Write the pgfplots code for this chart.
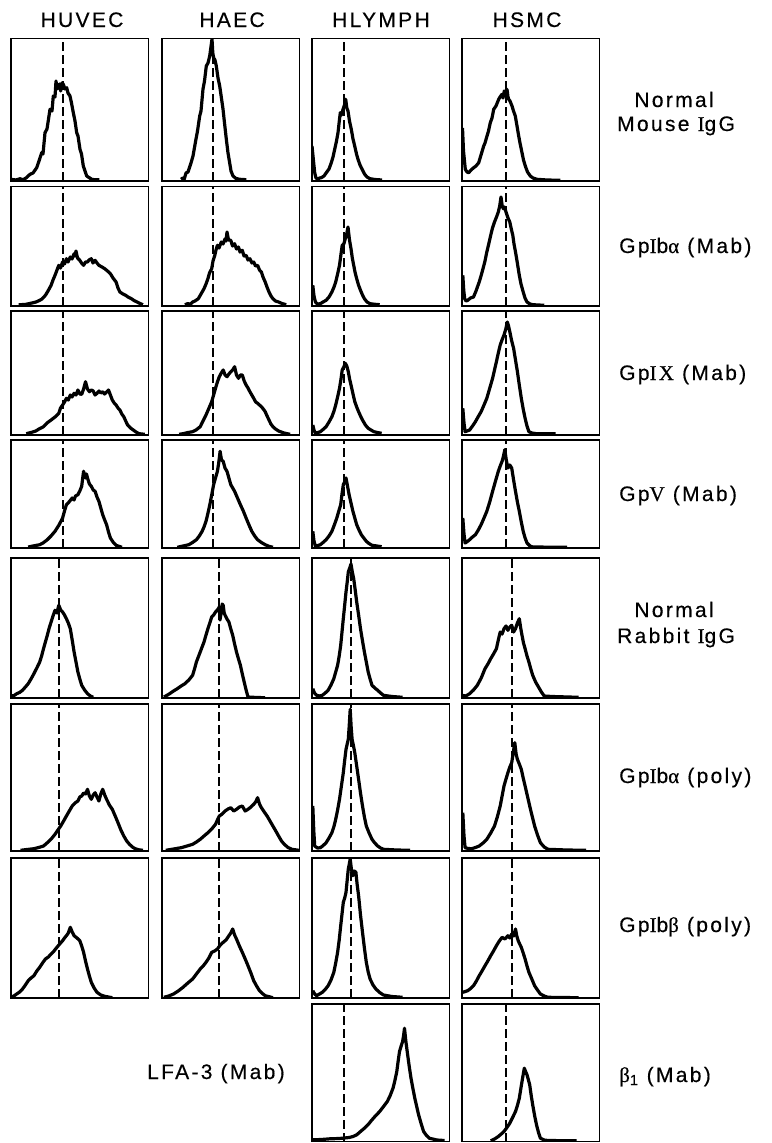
\documentclass[border=0pt]{standalone}
\usepackage{fontspec}
\setmainfont[LetterSpace=11,FakeBold=0.4]{Liberation Sans}
\newfontfamily\tnr[LetterSpace=11,FakeBold=0.4]{Liberation Serif}
\usepackage{pgfplots}
\pgfplotsset{compat=1.18}
\newcommand{\sI}{{\tnr I}}
\pgfplotsset{
  panel/.style={scale only axis, width=137.5bp, xmin=0, xmax=137.5, ymin=0,
    axis line style={line width=1.6bp}, ticks=none, anchor=north west, clip=true},
  hist/.style={black, line width=3.2bp, line join=round, no markers},
  dline/.style={black, line width=1.4bp, dash pattern=on 9bp off 4bp, no markers}
}
\newcommand{\panel}[5]{%
\begin{axis}[panel, at={(#1bp,-#2bp)}, height=#3bp, ymax=#3]
\addplot[dline] coordinates {(#4,0) (#4,#3)};
\addplot[hist] coordinates {#5};
\end{axis}}
\tikzset{lab/.style={font=\fontsize{21bp}{25bp}\selectfont, inner sep=0pt}}
\begin{document}
\begin{tikzpicture}
\useasboundingbox (0,0) rectangle (772bp,-1143bp);
% ---------- Row 1: Normal Mouse IgG ----------
\panel{11}{38.5}{142.5}{52}{(0,1.7)(5,1)(9,2.3)(12,1.2)(15,3)(19,6.7)(22,8)(25.7,13.3)(28,20)(30.7,28.3)(32,27)(34,48.3)(36,52)(39,71.7)(41,70)(42.3,85)(44,84)(45,100)(46,92)(47.3,95)(48.5,97)(49.7,90)(51,98)(52.3,96.7)(54,92)(55.7,93.3)(57,88)(59,85)(60.5,78)(62.3,68.3)(64,60)(65.7,48.3)(67,45)(69,31.7)(70.5,27)(72.3,15)(74,10)(75.7,5)(78,3.5)(80.7,1.7)(84,1.2)(88.3,1.3)}
\panel{162}{38.5}{142.5}{51}{(19,1.7)(21,3)(22,1)(24,8)(26,9)(29,18)(31,25)(34,42)(35.5,50)(37.7,65)(39,70)(41,92)(42.5,100)(44.3,115)(46,118)(47.7,125)(48.8,133)(50,142)(50.8,128)(51.7,123)(53,121)(54.3,115)(56,103)(57.7,95)(59,86)(61,72)(62.5,58)(64.3,42)(66,28)(67.7,18)(69,10)(71,5)(74,2.5)(77.7,1.7)(84.3,1.3)}
\panel{312}{38.5}{142.5}{32}{(0,35)(1.5,20)(2.7,8.3)(4,3)(6,1.7)(7.5,3)(9.3,3.3)(12,5)(14.3,8.3)(17,12)(19.3,18.3)(21,24)(22.7,31.7)(24.5,40)(26,48.3)(27.3,60)(28.3,68.3)(29.5,66)(31,71.7)(32.5,76)(33.7,81.7)(34.8,73)(36,70)(37.5,60)(39.3,51.7)(41,42)(42.7,35)(44.5,27)(46,21.7)(48,16)(49.3,13.3)(51,10)(52.7,6.7)(55,4)(58,2.3)(63,1.5)(70,1)}
\panel{462}{38.5}{142.5}{44}{(0.5,53)(1.5,30)(3.3,11.7)(5,9)(6.7,8.3)(9,11)(11.7,13.3)(14,15)(16.7,18.3)(19,26)(21.7,35)(23,38)(25,45)(26.5,50)(28.3,58.3)(30,63)(31.7,71.7)(34,75)(36.7,81.7)(38,84)(40,86.7)(41,83)(42.3,90)(43.5,88)(45,91.7)(46,84)(46.7,81.7)(48,80)(50,75)(51.5,70)(53.3,65)(55,55)(56.7,45)(58,38)(60,28.3)(61.5,21)(63.3,15)(65.5,9)(68.3,5)(71,3)(75,1.7)(85,1)(98.3,0.7)}
% ---------- Row 2: GpIb alpha (Mab) ----------
\panel{11}{186.5}{119.5}{52}{(7.6,1.3)(14,1.5)(21,3)(25,4)(28.7,5.7)(31,7)(34.4,10.7)(37,15)(40.1,20.7)(42,26)(44,30.7)(46,36)(47.8,40.7)(49.5,38)(51.6,44)(53.5,42)(55.4,47.3)(57,44)(59.3,49)(61,47)(63.1,52.3)(64,50)(65,55)(66.5,48)(68.8,45.7)(70.5,43)(72.6,40.7)(74.5,44)(76.5,44)(78,46)(80.3,47.3)(82,43)(84.1,45.7)(86,43)(87.9,40.7)(91,39)(93.7,37.3)(96.5,35)(99.4,32.3)(102,28)(105.1,24)(107,18)(108.9,14)(112,12)(114.7,10.7)(117,9)(120.4,7.3)(123,5.5)(126.1,4)(129,2.5)(131.9,1.3)}
\panel{162}{186.5}{119.5}{51}{(22.9,1.3)(26,2.5)(28,1.5)(30.6,4)(33,5)(36.3,7.3)(39,12)(42,17.3)(44,22)(45.9,27.3)(47.5,33)(49.7,37.3)(51,45)(52.8,50.7)(54,56)(55.4,60.7)(57,58)(59.3,64)(61,62)(63.1,67.3)(64,65)(65,74)(66.5,66)(68.8,65.7)(70.5,60)(72.6,62.3)(74.5,57)(76.5,59)(78,54)(80.3,55.7)(82,50)(84.1,50.7)(86,46)(87.9,47.3)(90,43)(91.7,44)(93.5,40)(95.6,40.7)(97.5,36)(99.4,34)(101,29)(103.2,24)(105,19)(107,14)(109,10)(110.9,7.3)(113.5,5)(116.6,4)(120,2.5)(124.2,1.3)}
\panel{312}{186.5}{119.5}{32}{(0.8,20.7)(2,10)(3.4,4)(5.5,2)(8.4,2.3)(11,4)(14.1,5.7)(17,9)(19.9,14)(22,19)(23.7,24)(25.6,32)(27.5,40.7)(29,52)(30.2,60.7)(31.8,62)(33.3,67.3)(34.7,72)(36,79)(37.5,66)(39,57.3)(40.3,48)(41.7,40.7)(43,34)(44.7,27.3)(46.5,21)(48.5,15.7)(50.5,11)(52.4,7.3)(55,4)(58.1,2.3)(62,1.8)(67.7,1.3)}
\panel{462}{186.5}{119.5}{44}{(0.8,30.7)(1.8,15)(2.7,7.3)(4,5)(5.7,5.7)(8.5,8)(11.5,9)(14,15)(17.2,24)(19,30)(21,37.3)(23,45)(24.8,54)(26.5,61)(28.7,70.7)(30.5,78)(32.5,84)(34.5,89)(36.3,94)(37.7,100)(39,109)(40.2,100)(41.3,97.3)(42.5,99)(44,94)(46,88)(47.8,84)(49.3,77)(50.8,70.7)(52,62)(53.5,54)(55.5,42)(57.3,30.7)(59,22)(61.2,14)(63,8)(65,4)(68,2)(70.7,1.3)(82.2,0.7)}
% ---------- Row 3: GpIX (Mab) ----------
\panel{11}{311}{124}{52}{(15.3,1.3)(20,2.5)(24.8,4)(28,6)(32.5,8.3)(36,12)(40.1,15)(44,18)(47.8,21.7)(49.5,27)(51.6,30)(53.5,33)(55.4,36.7)(57.3,35)(59.3,40)(61,38)(63.1,41.7)(65,40)(66.9,45)(68.8,41)(70.7,40.7)(72.6,46)(74.5,53.3)(76.5,46)(78.4,43.3)(80.3,45)(82.2,44)(84.1,40)(86,41.7)(88,44)(89.8,42)(91.7,43.3)(93.5,41)(95.6,43)(97.5,45)(99.4,40)(101.3,35)(103.2,32)(105.1,30)(107,27)(108.9,25)(110.8,21)(112.8,18.3)(114.7,14)(116.6,10)(119.5,7)(122.3,5)(125,3)(128.1,1.3)(133.8,0.7)}
\panel{162}{311}{124}{51}{(17.2,0.7)(22,1.5)(26,2.5)(30.6,3.3)(34,5)(38.2,8.3)(41,14)(44,20)(47,27)(49.7,33.3)(51.6,40)(53.5,46.7)(55.4,53)(57.3,58.3)(59.3,62)(61.2,65)(63.1,60)(65,58.3)(66.9,61)(68.8,63.3)(70.7,65)(72.6,68.3)(74.5,60)(76.5,56.7)(78.4,60)(80.3,60)(82.2,54)(84.1,50)(86,47)(87.9,43.3)(89.8,40)(91.7,36.7)(93.7,33)(95.6,31.7)(97.5,30)(99.4,28.3)(101.3,26)(103.2,23.3)(105.1,19)(107,15)(108.9,11)(110.9,8.3)(113.5,6)(116.6,4)(122,2)(128.1,0.7)}
\panel{312}{311}{124}{32}{(0.8,10)(2,5)(3.4,1.7)(6,2.5)(8.4,3.3)(11,5.5)(14.1,8.3)(17,13)(19.9,18.3)(22,24)(23.7,30)(25.6,38)(27.5,46.7)(29,56)(30.2,65)(31.8,68)(33.3,71.7)(34.8,69)(36.3,63.3)(37.6,56)(39,50)(41,41)(42.8,33.3)(44.7,28)(46.6,23.3)(48.5,19)(50.5,15)(53.4,10)(56.2,6.7)(59,5)(61.9,3.3)(65.5,2.5)(69.6,1.7)}
\panel{462}{311}{124}{44}{(0.8,26.7)(2,12)(3.1,3.3)(5,4)(7.6,5)(10.5,9)(13.4,13.3)(16,18)(19.1,23.3)(22,30)(24.8,36.7)(27.5,46)(30.6,56.7)(32.5,65)(34.4,73.3)(36.3,82)(38.2,90)(40,95)(42,100)(43.8,106)(45.3,113)(46.3,110)(47.8,103.3)(49.5,95)(51.6,86.7)(53.5,75)(55.4,63.3)(57.3,50)(59.3,36.7)(61.2,26)(63.1,16.7)(65,9)(66.9,3.3)(70,2)(74.5,1.3)(93.7,1.3)}
% ---------- Row 4: GpV (Mab) ----------
\panel{11}{440}{108}{52}{(17.2,1)(22,2)(28.7,3.3)(32,5)(36.3,8.3)(40,12)(44,16.7)(48,23)(51.6,30)(53.5,37)(55.4,43.3)(58,46)(61.2,50)(63,48)(64.5,52)(66.9,53.3)(68.8,57)(70.7,61.7)(71.7,70)(72.6,76.7)(74.5,70)(75.5,74)(76.5,70)(78.4,64)(80.3,61.7)(82.2,58)(84.1,56.7)(86,51)(87.9,46.7)(89.8,40)(91.7,33.3)(93.7,28)(95.6,23.3)(97.5,16)(99.4,10)(102,6)(105.1,2.7)(110.9,0.7)}
\panel{162}{440}{108}{51}{(15.3,0.7)(21,2)(26.8,3.3)(30.5,5.5)(34.4,8.3)(37.3,12)(40.1,16.7)(42,21)(44,26.7)(46,35)(47.8,43.3)(49.7,53)(51.6,63.3)(53.5,70)(55.4,76.7)(56.7,85)(58.1,96.7)(59.5,88)(61.2,86.7)(63,80)(65,76.7)(66.9,70)(68.8,63.3)(70.7,60)(72.6,56.7)(75.5,50)(78.4,43.3)(81.3,37)(84.1,30)(87,23)(89.8,16.7)(92.7,12)(95.6,8.3)(99.4,5.5)(103.2,3.3)(107,1.7)(110.9,0.7)}
\panel{312}{440}{108}{32}{(0.8,16.7)(2,7)(3.4,1.7)(6,2.5)(8.4,3.3)(11,5.5)(14.1,8.3)(17,12)(19.9,16.7)(22.3,23)(24.8,30)(26.8,37)(28.7,43.3)(30,54)(31.3,63.3)(32.6,66)(34,70)(35.5,62)(37.1,53.3)(39,45)(40.9,36.7)(42.8,30)(44.7,23.3)(47,18)(49.3,13.3)(51.8,10)(54.3,6.7)(57,4.5)(60,2.7)(65,2)(69.6,1.3)}
\panel{462}{440}{108}{44}{(0.8,30)(2,14)(3.1,5)(5.4,6.5)(7.6,8.3)(10.5,11)(13.4,13.3)(16.3,18)(19.1,23.3)(22,30)(24.8,36.7)(27.7,46)(30.6,56.7)(33.5,67)(36.3,76.7)(38.2,82)(40.1,86.7)(41.5,92)(42.8,98.3)(44.3,88)(45.9,80)(47.8,83)(49.7,80)(51.6,68)(53.5,56.7)(55.4,46)(57.3,36.7)(59.3,26)(61.2,16.7)(63.1,10)(65,5)(68,2)(70.7,1)(105.1,0.7)}
% ---------- Row 5: Normal Rabbit IgG ----------
\panel{11}{558}{140}{48}{(0,2)(3,2.5)(5.7,4.3)(8.5,5.5)(11.5,7.7)(14.4,11)(17.2,14.3)(20,19)(22.9,24.3)(25.8,30)(28.7,36)(30.6,42)(32.5,49.3)(34.4,56)(36.3,62.7)(38.2,70)(40.1,76)(42,82)(44,87.7)(45.9,85)(47.8,92.7)(49.7,88)(51.6,86)(53.5,83)(55.4,79.3)(57.3,75)(59.3,69.3)(61.2,58)(63.1,46)(65,36)(66.9,26)(68.8,19)(70.7,12.7)(73.6,8)(76.5,4.3)(79.4,2)(82.2,0.7)}
\panel{162}{558}{140}{57}{(1.9,1)(4.7,2.5)(7.6,4.3)(11.5,7)(15.3,9.3)(19.1,12)(22.9,14.3)(26.8,18)(30.6,22.7)(32.5,29)(34.4,36)(36.3,41)(38.2,46)(40.1,51)(42,56)(44,63)(45.9,69.3)(47.8,75)(49.7,81)(51.6,83)(53.5,86)(55.4,88)(57.3,91)(58,78)(59.3,86)(60.2,94)(61.2,92.7)(62.2,85)(63.1,82.7)(65,79)(66.9,76)(68.8,69)(70.7,62.7)(72.6,54)(74.5,46)(76.5,39)(78.4,32.7)(80.3,24)(82.2,16)(84.1,8)(86,1)(95,0.5)(103.2,0.3)}
\panel{312}{558}{140}{39}{(0.8,9.3)(2.5,5)(4.6,2.7)(7.5,2)(10.3,2.7)(13.2,5)(16.1,7.7)(19,13)(21.8,19.3)(23.7,26)(25.6,32.7)(27.2,42)(28.7,52.7)(30,66)(31.3,79.3)(32.7,93)(34,106)(35.2,116)(36.3,126)(37.7,130)(39,134)(40.3,126)(41.7,119.3)(43.2,108)(44.7,96)(46.6,83)(48.5,69.3)(50.5,57)(52.4,46)(54.3,36)(56.2,26)(58.1,19)(60,12.7)(62.8,10)(65.7,7.7)(68.6,5)(71.5,2.7)(80,1.5)(90.6,0.7)}
\panel{462}{558}{140}{50}{(0,2.7)(3.8,2)(7.6,4.3)(11.5,8)(15.3,12.7)(19.2,20)(23,29.3)(25.9,34)(28.7,39.3)(31.5,44)(34.4,49.3)(36.3,58)(38.2,66)(40.1,64)(42,69.3)(44,72)(45.9,67.7)(47.8,71)(49.7,72.7)(51.6,66)(53.5,69.3)(55.4,75)(57.3,79.3)(58.7,70)(60,62.7)(61.5,55)(63.1,49.3)(65,42)(66.9,36)(68.8,29)(70.7,22.7)(73.6,16)(76.5,11)(79.4,6)(82.2,2)(90,1.5)(116.6,0.7)}
% ---------- Row 6: GpIb alpha (poly) ----------
\panel{11}{704}{147}{48}{(9.6,0.7)(16,1.5)(22.9,2.3)(27.7,3.5)(32.5,5)(35.4,7.5)(38.2,10)(41,13)(44,16.7)(46.9,21)(49.7,25)(52.6,30)(55.4,35)(58.3,40)(61.2,45)(64,48)(66.9,50)(68.8,54)(70.7,55)(72.6,58)(74.5,57)(76.5,61.7)(78.4,55)(80.3,51.7)(82.2,56)(84.1,58.3)(86,54)(87.9,50)(89.8,57)(91.7,61.7)(93.7,56)(95.6,51.7)(98.4,46)(101.3,41.7)(104.2,35)(107,28.3)(109.9,21)(112.8,15)(115.7,10)(118.5,6.7)(121.4,4)(124.2,2.3)(128,1.2)(131.9,0.7)}
\panel{162}{704}{147}{57}{(3.8,0.7)(11.5,2)(19.1,3.3)(25,5)(30.6,6.7)(34.4,9)(38.2,11.7)(42,15)(45.9,18.3)(49.7,22)(53.5,26.7)(55.4,31)(57.3,35)(60.2,37)(63.1,40)(66,42)(68.8,43.3)(71.7,40)(74.5,41.7)(77.4,44)(80.3,45)(83.2,40)(86,41.7)(88.9,44)(91.7,46.7)(93.6,49)(95.6,53.3)(97.5,47)(99.4,43.3)(102.3,39)(105.1,35)(108,30)(110.9,25)(113.8,20)(116.6,15)(119.5,10)(122.3,6.7)(126,3.5)(130,1.7)(136.9,0.7)}
\panel{312}{704}{147}{39}{(0.8,45)(1.8,20)(2.7,5)(5.5,3)(8.4,3.3)(11.2,5.5)(14.1,8.3)(17,13)(19.9,18.3)(21.8,24)(23.7,31.7)(25.6,41)(27.5,51.7)(29.4,65)(31.3,78.3)(32.6,90)(34,101.7)(35.2,107)(36.3,111.7)(37.2,125)(38.2,141.7)(39.1,125)(40.1,111.7)(41.5,105)(42.8,98.3)(44.7,85)(46.6,71.7)(48.5,58)(50.5,45)(52.4,34)(54.3,25)(57.1,18)(60,11.7)(62.8,8)(65.7,5)(68.6,3)(71.5,1.7)(85,1)(98.2,0.7)}
\panel{462}{704}{147}{50}{(0.8,38.3)(2,15)(3.1,3.3)(6.3,2.5)(9.6,2.3)(13.4,3.5)(17.2,5)(21,8)(24.8,11.7)(28.7,18)(32.5,25)(35.3,34)(38.2,45)(40.1,55)(42,65)(44,72)(45.9,78.3)(47.8,84)(49.7,88.3)(51.2,98)(52.8,108.3)(54.1,97)(55.4,91.7)(57.3,87)(59.3,81.7)(61.2,73)(63.1,65)(65.4,55)(67.7,45)(70.1,35)(72.6,25)(75.5,16)(78.4,8.3)(82.2,4)(86,1.7)(105,1)(124.2,0.7)}
% ---------- Row 7: GpIb beta (poly) ----------
\panel{11}{858}{140}{48}{(0,0.7)(2.8,2)(5.7,4)(8.6,6)(11.5,9)(14.4,13)(17.2,17.3)(20,20)(22.9,22.3)(25.8,27)(28.7,30.7)(31.5,35)(34.4,39)(37.3,41)(40.1,44)(43,47)(45.9,50.7)(48.7,54)(51.6,57.3)(53.5,60)(55.4,62.3)(57.3,65)(59.3,70.7)(61.2,66)(63.1,62.3)(66,60)(68.8,57.3)(70.7,52)(72.6,45.7)(74.5,37)(76.5,29)(78.4,22)(80.3,15.7)(83.1,10)(86,5.7)(89.8,3)(93.7,1.7)(101.3,0.3)}
\panel{162}{858}{140}{57}{(1.9,0.7)(6.7,2)(11.5,4)(16.2,7)(21,10.7)(25.8,15)(30.6,19)(34.4,24)(38.2,29)(41.1,32)(44,35.7)(46.9,40)(49.7,45.7)(52.6,47)(55.4,49)(58.3,53)(61.2,55.7)(64,58)(66.9,62.3)(68.8,65)(70.7,69)(72.6,63)(74.5,59)(77.4,52)(80.3,45.7)(83.2,39)(86,32.3)(88.9,25)(91.7,17.3)(94.6,12)(97.5,7.3)(100.4,4.5)(103.2,2.3)(110.9,0.3)}
\panel{312}{858}{140}{39}{(0.8,7.3)(2.7,4)(4.6,2.3)(7.5,4)(10.3,5.7)(13.2,8.5)(16.1,12.3)(19,18)(21.8,25.7)(23.7,35)(25.6,45.7)(27.2,58)(28.7,72.3)(30,84)(31.3,95.7)(32.7,100)(34,105.7)(35.2,118)(36.3,129)(37.3,134)(38.2,139)(39.5,128)(40.9,122.3)(42.4,127)(43.9,125.7)(45.2,113)(46.6,102.3)(48.5,83)(50.5,65.7)(52.4,50)(54.3,35.7)(56.2,26)(58.1,19)(61,13)(63.9,9)(67.7,5.5)(71.5,3)(80,1.5)(90.6,0.7)}
\panel{462}{858}{140}{50}{(0.8,5.7)(3.2,6.5)(5.7,7.3)(8.6,9.5)(11.5,12.3)(14.4,17)(17.2,22.3)(20,27)(23,32.3)(25.8,37)(28.7,42.3)(31.5,47)(34.4,52.3)(37.3,57)(40.1,60.7)(43,59)(45.9,62.3)(47.8,60)(49.7,64)(51.6,62)(53.5,69)(54.8,62)(56.2,57.3)(57.7,54)(59.3,50.7)(61.2,45)(63.1,39)(65,32)(66.9,25.7)(69.8,19)(72.6,12.3)(75.5,8)(78.4,4)(82.2,2)(86,0.7)(116.6,0.3)}
% ---------- Row 8: LFA-3 / beta1 ----------
\panel{312}{1004}{137.5}{32}{(0.8,1.7)(9,2)(18,2.7)(27,3)(37.1,4)(41,5)(44.7,6.7)(48.5,10)(52.4,13.3)(56.2,17)(60,21.7)(63.8,26)(67.7,30)(71.5,35)(75.3,40)(78.2,46)(81,53.3)(82.9,61)(84.8,70)(86.1,80)(87.5,90)(89,95)(90.6,100)(91.6,106)(92.5,113.3)(93.9,100)(95.2,90)(97.1,76)(99,63.3)(100.9,53)(102.8,43.3)(104.7,35)(106.6,26.7)(109.1,18)(111.6,10)(114.5,6)(117.3,3.3)(125,1.5)(132.6,1)}
\panel{462}{1004}{137.5}{44}{(28.7,0.7)(32.5,2.5)(36.3,5)(39.2,7.5)(42,10)(44.9,14)(47.8,18.3)(50.6,24)(53.5,30)(55.4,36)(57.3,43.3)(58.7,52)(60,60)(61.2,67)(62.3,73.3)(63.6,70)(65,66.7)(66.3,62)(67.7,56.7)(69.2,46)(70.7,36.7)(72.6,26)(74.5,16.7)(76.5,9)(78.4,3.3)(82.2,1.5)(86,1)(114.7,0.7)}
% ---------- Labels ----------
\node[lab, anchor=base] at (82bp,-27bp) {HUVEC};
\node[lab, anchor=base] at (232bp,-27bp) {HAEC};
\node[lab, anchor=base] at (381bp,-27bp) {HLYMPH};
\node[lab, anchor=base] at (527bp,-27bp) {HSMC};
\node[lab, anchor=base] at (674bp,-107bp) {Normal};
\node[lab, anchor=base west] at (617bp,-131bp) {Mouse \sI gG};
\node[lab, anchor=base west] at (619bp,-253bp) {Gp\sI b{\tnr α} (Mab)};
\node[lab, anchor=base west] at (619bp,-380bp) {Gp{\tnr IX} (Mab)};
\node[lab, anchor=base west] at (619bp,-501bp) {Gp{\tnr V} (Mab)};
\node[lab, anchor=base] at (674bp,-617bp) {Normal};
\node[lab, anchor=base west] at (617bp,-643bp) {Rabbit \sI gG};
\node[lab, anchor=base west] at (619bp,-783bp) {Gp\sI b{\tnr α} (poly)};
\node[lab, anchor=base west] at (619bp,-932bp) {Gp\sI b{\tnr β} (poly)};
\node[lab, anchor=base west] at (619bp,-1082bp) {{\tnr β}\textsubscript{1} (Mab)};
\node[lab, anchor=base west] at (147bp,-1079bp) {LFA-3 (Mab)};
\end{tikzpicture}
\end{document}
